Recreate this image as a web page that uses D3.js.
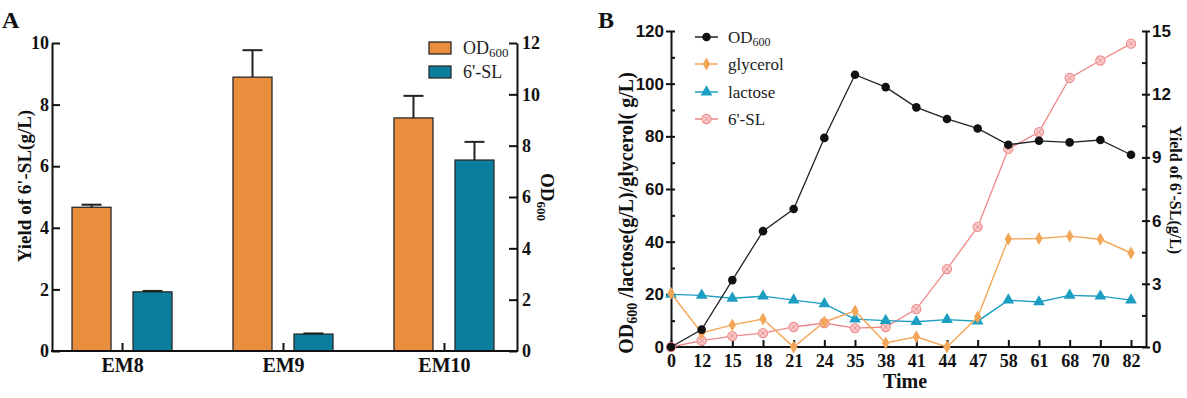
<!DOCTYPE html>
<html><head><meta charset="utf-8">
<script src="https://cdn.jsdelivr.net/npm/d3@7"></script>
<style>body{margin:0;background:#fff} svg{display:block}</style>
</head><body>
<svg id="c" width="1187" height="398"></svg>
<script>
// ---------- Panel A data ----------
const categoriesA = ["EM8", "EM9", "EM10"];
const od600A = [5.6, 10.67, 9.08];
const od600ErrA = [0.1, 1.05, 0.86];
const slA = [1.92, 0.55, 6.2];
const slErrA = [0.03, 0.02, 0.59];
const leftTicksA = [0, 2, 4, 6, 8, 10];
const rightTicksA = [0, 2, 4, 6, 8, 10, 12];

// ---------- Panel B data ----------
const timesB = ["0","12","15","18","21","24","35","38","41","44","47","58","61","68","70","82"];
const od600B = [0, 6.6, 25.4, 44, 52.4, 79.4, 103.4, 98.7, 91, 86.6, 83, 76.8, 78.3, 77.7, 78.6, 73];
const glycerolB = [20.4, 5.3, 8.4, 10.6, 0, 9.5, 13.7, 1.5, 3.9, 0, 11.4, 41, 41.2, 42.1, 40.9, 35.7];
const lactoseB = [20, 19.6, 18.5, 19.3, 17.8, 16.4, 10.6, 10, 9.6, 10.4, 9.8, 17.8, 17.1, 19.6, 19.3, 17.8];
const slB = [0, 0.3, 0.52, 0.66, 0.95, 1.14, 0.9, 0.95, 1.8, 3.7, 5.7, 9.4, 10.2, 12.77, 13.6, 14.4];
const leftTicksB = [0, 20, 40, 60, 80, 100, 120];
const leftMinorB = [10, 30, 50, 70, 90, 110];
const rightTicksB = [0, 3, 6, 9, 12, 15];
const rightMinorB = [1.5, 4.5, 7.5, 10.5, 13.5];

const SERIF = "'Liberation Serif','Times New Roman',serif";
const SANS = "'Liberation Sans',Arial,sans-serif";
const ORANGE = "#E98E3C", TEAL = "#0A7F9D";
const C_GLY = "#F4A658", C_LAC = "#1B9EC2", C_SL = "#EE8888", C_SLF = "#F8CACA";

const svg = d3.select("#c");

function styleAxis(g, font, size, weight) {
  g.selectAll("path.domain").attr("stroke", "#111").attr("stroke-width", 2);
  g.selectAll(".tick line").attr("stroke", "#111").attr("stroke-width", 2);
  g.selectAll(".tick text").attr("font-family", font).attr("font-size", size)
    .attr("font-weight", weight).attr("fill", "#111");
}

// ================= Panel A =================
const xA = d3.scalePoint().domain(categoriesA).range([52, 514]).padding(0.435);
const yAL = d3.scaleLinear().domain([0, 10]).range([351, 43]);
const yAR = d3.scaleLinear().domain([0, 12]).range([351, 43]);
const barW = 39, gapA = 11;
const gA = svg.append("g");

gA.selectAll("rect.od").data(categoriesA).join("rect").attr("class", "od")
  .attr("x", d => xA(d) - gapA - barW).attr("width", barW)
  .attr("y", (d, i) => yAR(od600A[i])).attr("height", (d, i) => yAR(0) - yAR(od600A[i]))
  .attr("fill", ORANGE).attr("stroke", "#2a2a2a").attr("stroke-width", 1.3);
gA.selectAll("rect.sl").data(categoriesA).join("rect").attr("class", "sl")
  .attr("x", d => xA(d) + gapA).attr("width", barW)
  .attr("y", (d, i) => yAL(slA[i])).attr("height", (d, i) => yAL(0) - yAL(slA[i]))
  .attr("fill", TEAL).attr("stroke", "#2a2a2a").attr("stroke-width", 1.3);

// error bars
function errBar(cx, yTop, yErr) {
  gA.append("line").attr("x1", cx).attr("x2", cx).attr("y1", yTop).attr("y2", yErr)
    .attr("stroke", "#222").attr("stroke-width", 2);
  gA.append("line").attr("x1", cx - 10).attr("x2", cx + 10).attr("y1", yErr).attr("y2", yErr)
    .attr("stroke", "#222").attr("stroke-width", 2);
}
categoriesA.forEach((c, i) => {
  errBar(xA(c) - gapA - barW / 2, yAR(od600A[i]), yAR(od600A[i] + od600ErrA[i]));
  errBar(xA(c) + gapA + barW / 2, yAL(slA[i]), yAL(slA[i] + slErrA[i]));
});

// axes A
const axAL = gA.append("g").attr("transform", "translate(52,0)")
  .call(d3.axisLeft(yAL).tickValues(leftTicksA).tickSize(-8).tickSizeOuter(0).tickPadding(3));
styleAxis(axAL, SERIF, 18, "bold");
const axAR = gA.append("g").attr("transform", "translate(517,0)")
  .call(d3.axisRight(yAR).tickValues(rightTicksA).tickSize(-8).tickSizeOuter(0).tickPadding(5));
styleAxis(axAR, SERIF, 18, "bold");
const axAB = gA.append("g").attr("transform", "translate(0,351)")
  .call(d3.axisBottom(xA).tickSize(-8).tickSizeOuter(0).tickPadding(7));
axAB.select("path.domain").remove();
styleAxis(axAB, SERIF, 20, "bold");
gA.append("line").attr("x1", 51).attr("x2", 518).attr("y1", 351).attr("y2", 351)
  .attr("stroke", "#111").attr("stroke-width", 2);

// titles A
gA.append("text").attr("transform", "translate(31,186) rotate(-90)")
  .attr("text-anchor", "middle").attr("font-family", SERIF).attr("font-size", 19)
  .attr("font-weight", "bold").attr("fill", "#111").text("Yield of 6'-SL(g/L)");
const tAR = gA.append("text").attr("transform", "translate(541,197) rotate(90)")
  .attr("text-anchor", "middle").attr("font-family", SERIF).attr("font-size", 19)
  .attr("font-weight", "bold").attr("fill", "#111");
tAR.append("tspan").text("OD");
tAR.append("tspan").attr("font-size", 13).attr("dy", 4).text("600");

// legend A
const legA = [{ c: ORANGE, t: "OD", s: "600", y: 42 }, { c: TEAL, t: "6'-SL", s: "", y: 66 }];
legA.forEach(l => {
  gA.append("rect").attr("x", 429).attr("y", l.y).attr("width", 22).attr("height", 12)
    .attr("fill", l.c).attr("stroke", "#2a2a2a").attr("stroke-width", 1.3);
  const t = gA.append("text").attr("x", 463).attr("y", l.y + 11.5).attr("font-family", SERIF)
    .attr("font-size", 18).attr("fill", "#222");
  t.append("tspan").text(l.t);
  if (l.s) t.append("tspan").attr("font-size", 13).attr("dy", 3).text(l.s);
});

gA.append("text").attr("x", 2).attr("y", 28).attr("font-family", SERIF).attr("font-size", 24)
  .attr("font-weight", "bold").attr("fill", "#111").text("A");

// ================= Panel B =================
const xB = d3.scalePoint().domain(timesB).range([671, 1131]);
const yBL = d3.scaleLinear().domain([0, 120]).range([347, 31]);
const yBR = d3.scaleLinear().domain([0, 15]).range([347, 31]);
const gB = svg.append("g");

// axes B
const axBL = gB.append("g").attr("transform", "translate(671,0)")
  .call(d3.axisLeft(yBL).tickValues(leftTicksB).tickSize(5).tickSizeOuter(0).tickPadding(2));
styleAxis(axBL, SANS, 17, "bold");
axBL.selectAll(".tick line").attr("x1", 4);
const axBLm = gB.append("g").attr("transform", "translate(671,0)")
  .call(d3.axisLeft(yBL).tickValues(leftMinorB).tickSize(-4).tickFormat(""));
axBLm.select("path.domain").remove();
styleAxis(axBLm, SANS, 17, "bold");

const axBR = gB.append("g").attr("transform", "translate(1146,0)")
  .call(d3.axisRight(yBR).tickValues(rightTicksB).tickSize(4).tickSizeOuter(0).tickPadding(2));
styleAxis(axBR, SANS, 17, "bold");
axBR.selectAll(".tick line").attr("x1", -4);
const axBRm = gB.append("g").attr("transform", "translate(1146,0)")
  .call(d3.axisRight(yBR).tickValues(rightMinorB).tickSize(-4).tickFormat(""));
axBRm.select("path.domain").remove();
styleAxis(axBRm, SANS, 17, "bold");

const axBB = gB.append("g").attr("transform", "translate(0,347)")
  .call(d3.axisBottom(xB).tickSize(-7).tickSizeOuter(0).tickPadding(7));
axBB.select("path.domain").remove();
styleAxis(axBB, SERIF, 18, "bold");
gB.append("line").attr("x1", 670).attr("x2", 1147).attr("y1", 347).attr("y2", 347)
  .attr("stroke", "#111").attr("stroke-width", 2);

// series
function lineFor(vals, y) {
  return d3.line().x((d, i) => xB(timesB[i])).y(d => y(d))(vals);
}
function drawSL(g, cx, cy) {
  g.append("circle").attr("cx", cx).attr("cy", cy).attr("r", 4.6)
    .attr("fill", C_SLF).attr("stroke", C_SL).attr("stroke-width", 1.1);
  g.append("path").attr("d", `M${cx-2.8},${cy-2.8}L${cx+2.8},${cy+2.8}M${cx-2.8},${cy+2.8}L${cx+2.8},${cy-2.8}`)
    .attr("stroke", C_SL).attr("stroke-width", 0.9);
}
const triSym = d3.symbol(d3.symbolTriangle, 60);
const diaSym = d3.symbol(d3.symbolDiamond, 48);

// 6'-SL
gB.append("path").attr("d", lineFor(slB, yBR)).attr("fill", "none").attr("stroke", C_SL).attr("stroke-width", 1.3);
const gSL = gB.append("g");
slB.forEach((v, i) => drawSL(gSL, xB(timesB[i]), yBR(v)));
// lactose
gB.append("path").attr("d", lineFor(lactoseB, yBL)).attr("fill", "none").attr("stroke", C_LAC).attr("stroke-width", 1.4);
gB.selectAll("path.lac").data(lactoseB).join("path").attr("class", "lac")
  .attr("d", triSym).attr("transform", (d, i) => `translate(${xB(timesB[i])},${yBL(d)})`)
  .attr("fill", C_LAC);
// glycerol
gB.append("path").attr("d", lineFor(glycerolB, yBL)).attr("fill", "none").attr("stroke", C_GLY).attr("stroke-width", 1.4);
gB.selectAll("path.gly").data(glycerolB).join("path").attr("class", "gly")
  .attr("d", diaSym).attr("transform", (d, i) => `translate(${xB(timesB[i])},${yBL(d)})`)
  .attr("fill", C_GLY);
// OD600
gB.append("path").attr("d", lineFor(od600B, yBL)).attr("fill", "none").attr("stroke", "#222").attr("stroke-width", 1.3);
gB.selectAll("circle.od").data(od600B).join("circle").attr("class", "od")
  .attr("cx", (d, i) => xB(timesB[i])).attr("cy", d => yBL(d)).attr("r", 4.3).attr("fill", "#111");

// titles B
const tBL = gB.append("text").attr("transform", "translate(633,213) rotate(-90)")
  .attr("text-anchor", "middle").attr("font-family", SERIF).attr("font-size", 20)
  .attr("font-weight", "bold").attr("fill", "#111");
tBL.append("tspan").text("OD");
tBL.append("tspan").attr("font-size", 14).attr("dy", 4).text("600");
tBL.append("tspan").attr("dy", -4).text(" /lactose(g/L)/glycerol( g/L)");

gB.append("text").attr("transform", "translate(1170,190) rotate(90)")
  .attr("text-anchor", "middle").attr("font-family", SERIF).attr("font-size", 16)
  .attr("font-weight", "bold").attr("fill", "#111").text("Yield of 6'-SL(g/L)");

gB.append("text").attr("x", 905).attr("y", 388).attr("text-anchor", "middle")
  .attr("font-family", SERIF).attr("font-size", 20).attr("font-weight", "bold")
  .attr("fill", "#111").text("Time");

// legend B
const legB = [
  { k: "od", t: "OD", s: "600", c: "#222", y: 37 },
  { k: "gly", t: "glycerol", s: "", c: C_GLY, y: 64 },
  { k: "lac", t: "lactose", s: "", c: C_LAC, y: 92 },
  { k: "sl", t: "6'-SL", s: "", c: C_SL, y: 119 }
];
legB.forEach(l => {
  gB.append("line").attr("x1", 695).attr("x2", 718).attr("y1", l.y).attr("y2", l.y)
    .attr("stroke", l.c).attr("stroke-width", 1.5);
  if (l.k === "od") gB.append("circle").attr("cx", 706.5).attr("cy", l.y).attr("r", 4.3).attr("fill", "#111");
  if (l.k === "gly") gB.append("path").attr("d", diaSym).attr("transform", `translate(706.5,${l.y})`).attr("fill", C_GLY);
  if (l.k === "lac") gB.append("path").attr("d", triSym).attr("transform", `translate(706.5,${l.y})`).attr("fill", C_LAC);
  if (l.k === "sl") drawSL(gB, 706.5, l.y);
  const t = gB.append("text").attr("x", 728).attr("y", l.y + 6).attr("font-family", SERIF)
    .attr("font-size", 17).attr("fill", "#222");
  t.append("tspan").text(l.t);
  if (l.s) t.append("tspan").attr("font-size", 12).attr("dy", 3).text(l.s);
});

gB.append("text").attr("x", 598).attr("y", 28).attr("font-family", SERIF).attr("font-size", 24)
  .attr("font-weight", "bold").attr("fill", "#111").text("B");
</script>
</body></html>
